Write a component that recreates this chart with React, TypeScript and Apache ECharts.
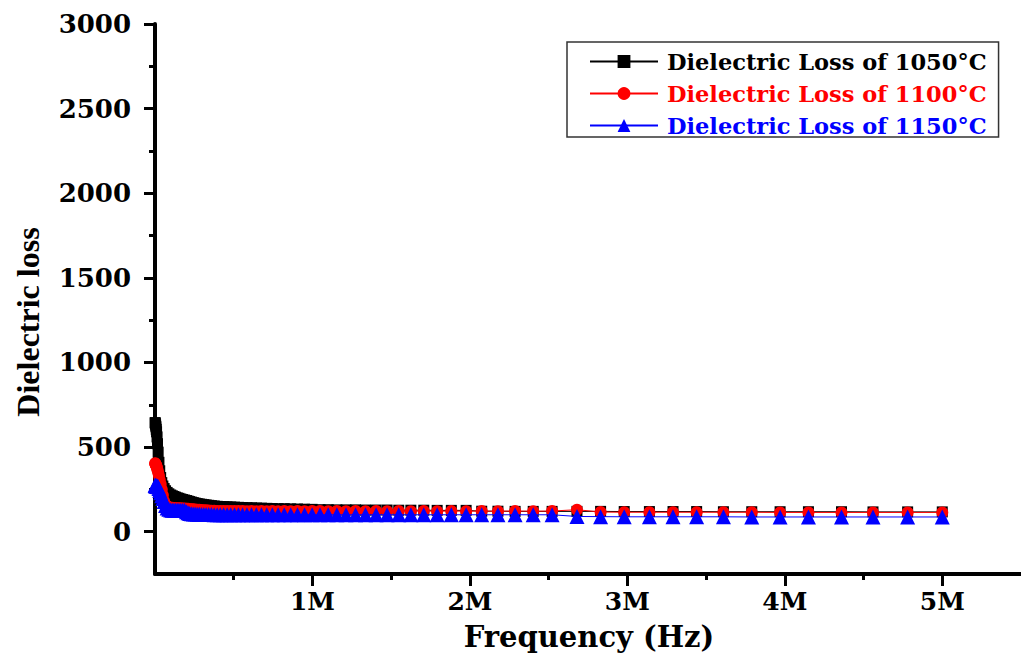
import React, { useEffect, useRef } from "react";
import * as echarts from "echarts";

// Frequency in MHz (log-spaced sweep)
const freqMHz = [
  0.001, 0.002, 0.004, 0.006, 0.008, 0.01, 0.013, 0.016, 0.02, 0.025, 0.03, 0.036, 0.043, 0.05,
  0.058, 0.067, 0.077, 0.088, 0.1, 0.11, 0.12, 0.13, 0.141, 0.152, 0.164, 0.176, 0.188,
  0.2, 0.21, 0.22, 0.231, 0.243, 0.255, 0.268, 0.281, 0.295, 0.31, 0.325, 0.341, 0.358, 0.376,
  0.395, 0.415, 0.436, 0.458, 0.481, 0.505,
  0.53, 0.556, 0.584, 0.613, 0.644, 0.676, 0.71, 0.745, 0.782, 0.821, 0.862, 0.905, 0.95, 0.998,
  1.048, 1.1, 1.155, 1.213, 1.274, 1.337, 1.404, 1.474, 1.548, 1.625, 1.707, 1.792, 1.882, 1.976,
  2.075, 2.178, 2.287, 2.402, 2.522,
  2.68, 2.83, 2.98, 3.14, 3.29, 3.44, 3.61, 3.79, 3.97, 4.15, 4.36, 4.56, 4.78, 5.0,
];

const loss1050 = [
  645, 640, 630, 620, 605, 590, 560, 520, 470, 410, 360, 320, 290, 270,
  255, 242, 232, 224, 217, 212, 208, 204, 200, 197, 193, 190, 187,
  184, 181, 178, 175, 172, 169, 166, 164, 162, 160, 158, 156, 154, 152,
  150, 149, 148, 147, 146, 145,
  144, 143, 142, 141, 140, 139, 138, 137, 136, 136, 135, 134, 133, 132,
  130, 130, 129, 129, 129, 128, 128, 128, 127, 127, 127, 126, 126, 126,
  121, 121, 120, 120, 120,
  120, 120, 119, 119, 119, 119, 118, 118, 118, 118, 118, 117, 117, 117,
];

const loss1100 = [
  405, 402, 398, 394, 390, 385, 375, 365, 350, 330, 305, 280, 250, 215,
  180, 160, 150, 145, 142, 141, 140, 139, 139, 138, 138, 137, 137,
  136, 135, 134, 133, 132, 131, 130, 129, 128, 127, 126, 125, 124, 124,
  123, 123, 123, 122, 122, 122,
  122, 122, 121, 122, 121, 122, 121, 122, 121, 122, 121, 122, 121, 122,
  122, 121, 122, 121, 122, 121, 122, 121, 122, 121, 122, 121, 122, 121,
  122, 121, 122, 121, 122,
  130, 116, 115, 115, 115, 115, 115, 115, 114, 114, 114, 114, 114, 114,
];

const loss1150 = [
  275, 274, 272, 271, 270, 270, 269, 268, 265, 255, 243, 230, 213, 196,
  178, 155, 140, 132, 128, 127, 127, 127, 127, 127, 127, 127, 126,
  118, 112, 108, 106, 105, 104, 103, 103, 102, 102, 101, 101, 101, 100,
  100, 100, 100, 100, 100, 100,
  100, 100, 100, 100, 100, 100, 100, 100, 100, 100, 100, 100, 100, 100,
  100, 100, 100, 100, 100, 100, 100, 100, 100, 100, 100, 100, 100, 100,
  100, 100, 100, 100, 100,
  90, 89, 88, 88, 88, 88, 88, 87, 87, 87, 87, 87, 87, 87,
];

const seriesNames = [
  "Dielectric Loss of 1050°C",
  "Dielectric Loss of 1100°C",
  "Dielectric Loss of 1150°C",
];
const seriesColors = ["#000000", "#ff0000", "#0000ff"];
const seriesSymbols = ["rect", "circle", "triangle"];
const seriesSymbolSizes = [11, 12, 15];
const seriesValues = [loss1050, loss1100, loss1150];

const yTickValues = [0, 500, 1000, 1500, 2000, 2500, 3000];
const yMinorTickValues = [250, 750, 1250, 1750, 2250, 2750];
const xTickValues = [1, 2, 3, 4, 5];
const xMinorTickValues = [0.5, 1.5, 2.5, 3.5, 4.5];

const xTitle = "Frequency (Hz)";
const yTitle = "Dielectric loss";

const WIDE_SERIF = '"DejaVu Serif", serif';
const TIMES = '"Liberation Serif", "Times New Roman", serif';

export default function App() {
  const ref = useRef<HTMLDivElement>(null);

  useEffect(() => {
    if (!ref.current) return;
    const chart = echarts.init(ref.current, undefined, { renderer: "svg" });

    const series = seriesNames.map((name, i) => ({
      name,
      type: "line",
      xAxisIndex: 0,
      yAxisIndex: 0,
      data: freqMHz.map((f, k) => [f, seriesValues[i][k]]),
      symbol: seriesSymbols[i],
      symbolSize: seriesSymbolSizes[i],
      showAllSymbol: true,
      lineStyle: { color: seriesColors[i], width: 1 },
      itemStyle: { color: seriesColors[i] },
      z: 2 + i,
    }));

    const axisTextBase = {
      fontFamily: WIDE_SERIF,
      fontWeight: "bold" as const,
      color: "#000",
    };

    chart.setOption({
      animation: false,
      backgroundColor: "#ffffff",
      grid: {
        left: 155,
        right: 0,
        top: 24,
        bottom: 81,
        containLabel: false,
        outerBoundsMode: "none",
      },
      xAxis: [
        {
          type: "value",
          min: 0,
          max: 5.5,
          position: "bottom",
          axisLine: { show: true, onZero: false, lineStyle: { color: "#000", width: 4 } },
          axisTick: {
            show: true,
            customValues: xTickValues,
            length: 12,
            lineStyle: { color: "#000", width: 3 },
          },
          axisLabel: {
            show: true,
            customValues: xTickValues,
            margin: 15,
            formatter: (v: number) => `${v}M`,
            fontSize: 25,
            ...axisTextBase,
          },
          splitLine: { show: false },
        },
        {
          type: "value",
          min: 0,
          max: 5.5,
          position: "bottom",
          axisLine: { show: false, onZero: false },
          axisTick: {
            show: true,
            customValues: xMinorTickValues,
            length: 6,
            lineStyle: { color: "#000", width: 3 },
          },
          axisLabel: { show: false },
          splitLine: { show: false },
        },
      ],
      yAxis: [
        {
          type: "value",
          min: -250,
          max: 3000,
          position: "left",
          axisLine: { show: true, onZero: false, lineStyle: { color: "#000", width: 4 } },
          axisTick: {
            show: true,
            customValues: yTickValues,
            length: 11,
            lineStyle: { color: "#000", width: 3 },
          },
          axisLabel: {
            show: true,
            customValues: yTickValues,
            margin: 24,
            fontSize: 26,
            formatter: (v: number) => String(v),
            ...axisTextBase,
          },
          splitLine: { show: false },
        },
        {
          type: "value",
          min: -250,
          max: 3000,
          position: "left",
          axisLine: { show: false, onZero: false },
          axisTick: {
            show: true,
            customValues: yMinorTickValues,
            length: 6,
            lineStyle: { color: "#000", width: 3 },
          },
          axisLabel: { show: false },
          splitLine: { show: false },
        },
      ],
      legend: {
        show: true,
        orient: "vertical",
        left: 567,
        top: 42,
        align: "left",
        padding: [8, 12, 0, 22],
        itemGap: 9,
        itemWidth: 68,
        itemHeight: 16,
        borderColor: "#333",
        borderWidth: 1.5,
        backgroundColor: "#fff",
        textStyle: {
          fontFamily: WIDE_SERIF,
          fontWeight: "bold",
          fontSize: 22.5,
          padding: [0, 0, 0, 4],
        },
        data: seriesNames.map((name, i) => ({
          name,
          textStyle: { color: seriesColors[i] },
        })),
      },
      graphic: [
        {
          type: "text",
          x: 28,
          y: 322,
          rotation: Math.PI / 2,
          style: {
            text: yTitle,
            font: `bold 32px ${TIMES}`,
            fill: "#000",
            textAlign: "center",
            textVerticalAlign: "middle",
          },
        },
        {
          type: "text",
          x: 589,
          y: 637,
          style: {
            text: xTitle,
            font: `bold 29px ${WIDE_SERIF}`,
            fill: "#000",
            textAlign: "center",
            textVerticalAlign: "middle",
          },
        },
      ],
      series,
    });

    return () => {
      chart.dispose();
    };
  }, []);

  return (
    <div
      ref={ref}
      style={{ position: "absolute", left: 0, top: 0, width: 1021, height: 655 }}
    />
  );
}
